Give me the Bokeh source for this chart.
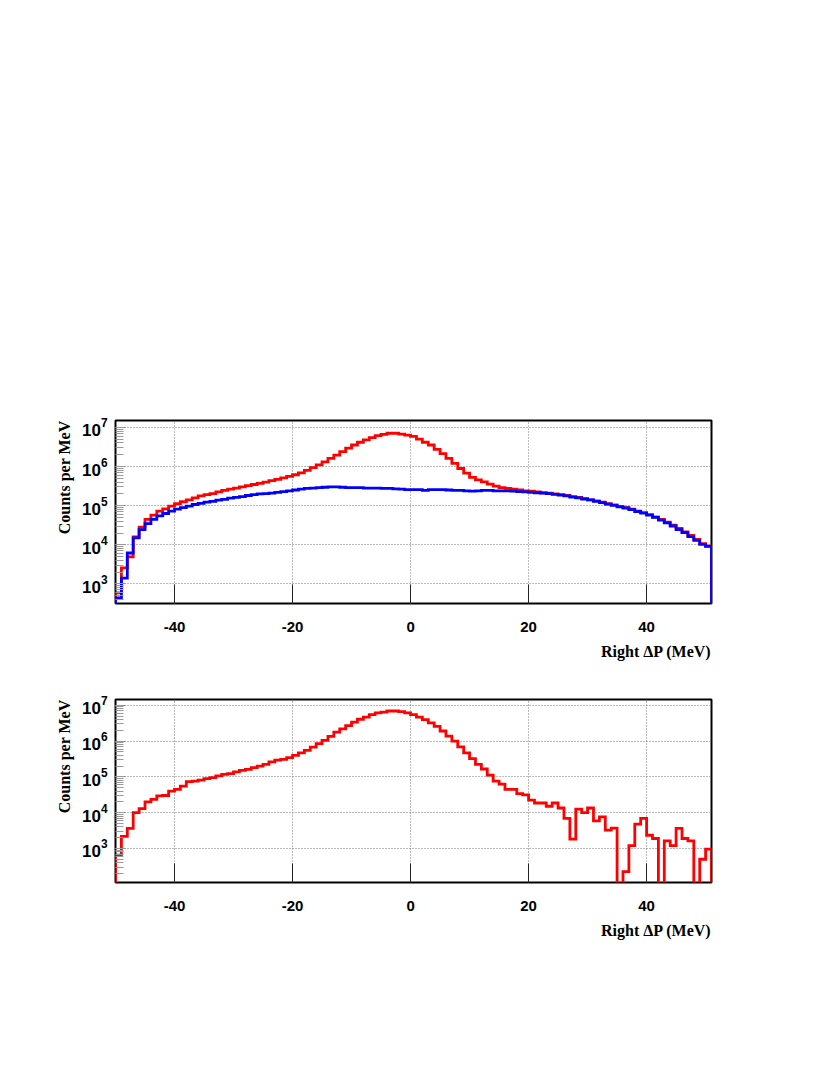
import numpy as np
from bokeh.plotting import figure
from bokeh.models import Range1d, FixedTicker, LogTicker, Title
from bokeh.layouts import column
from bokeh.embed import file_html
from bokeh.resources import INLINE

# ---------------- data ----------------
bin_lo = -50          # first bin lower edge (MeV)
bin_hi = 51           # last bin upper edge (MeV)
x_ticks = [-40, -20, 0, 20, 40]
x_title = "Right \u0394P (MeV)"
y_title = "Counts per MeV"

# top panel, red histogram (1 MeV bins from -50 to 51)
top_red = [
    589, 2570, 4900, 15800, 28200, 44700, 57500, 72400, 83200, 97700,
    1.12e5, 1.26e5, 1.41e5, 1.58e5, 1.78e5, 1.91e5, 2.04e5, 2.24e5, 2.45e5, 2.63e5,
    2.82e5, 3.02e5, 3.24e5, 3.47e5, 3.72e5, 3.98e5, 4.37e5, 4.68e5, 5.13e5, 5.62e5,
    6.17e5, 6.92e5, 7.94e5, 9.33e5, 1.10e6, 1.32e6, 1.62e6, 1.95e6, 2.40e6, 2.95e6,
    3.55e6, 4.17e6, 4.79e6, 5.50e6, 6.17e6, 6.61e6, 7.08e6, 7.08e6, 6.76e6, 6.31e6,
    5.89e6, 5.01e6, 4.17e6, 3.55e6, 2.75e6, 2.14e6, 1.62e6, 1.20e6, 8.91e5, 6.76e5,
    5.25e5, 4.57e5, 4.07e5, 3.55e5, 3.16e5, 2.88e5, 2.75e5, 2.63e5, 2.51e5, 2.40e5,
    2.34e5, 2.24e5, 2.14e5, 2.09e5, 2.00e5, 1.91e5, 1.82e5, 1.70e5, 1.62e5, 1.51e5,
    1.41e5, 1.32e5, 1.23e5, 1.12e5, 1.05e5, 9.55e4, 8.91e4, 8.13e4, 7.24e4, 6.61e4,
    5.89e4, 5.13e4, 4.47e4, 3.80e4, 3.16e4, 2.63e4, 2.14e4, 1.74e4, 1.38e4, 1.07e4,
    9.3e3,
]

# top panel, blue histogram
top_blue = [
    437, 1410, 6170, 15100, 24500, 34700, 44700, 55000, 63100, 72400,
    8.13e4, 8.91e4, 9.77e4, 1.07e5, 1.15e5, 1.23e5, 1.29e5, 1.38e5, 1.45e5, 1.55e5,
    1.62e5, 1.70e5, 1.82e5, 1.91e5, 2.00e5, 2.04e5, 2.09e5, 2.19e5, 2.29e5, 2.40e5,
    2.51e5, 2.63e5, 2.75e5, 2.82e5, 2.88e5, 2.95e5, 3.02e5, 3.02e5, 2.95e5, 2.88e5,
    2.88e5, 2.88e5, 2.82e5, 2.82e5, 2.82e5, 2.75e5, 2.75e5, 2.69e5, 2.63e5, 2.57e5,
    2.57e5, 2.57e5, 2.45e5, 2.57e5, 2.57e5, 2.57e5, 2.51e5, 2.45e5, 2.45e5, 2.40e5,
    2.34e5, 2.40e5, 2.45e5, 2.45e5, 2.40e5, 2.40e5, 2.40e5, 2.34e5, 2.29e5, 2.24e5,
    2.19e5, 2.14e5, 2.09e5, 2.04e5, 1.95e5, 1.86e5, 1.78e5, 1.66e5, 1.58e5, 1.48e5,
    1.41e5, 1.29e5, 1.20e5, 1.10e5, 1.02e5, 9.33e4, 8.71e4, 7.94e4, 7.08e4, 6.46e4,
    5.75e4, 5.01e4, 4.27e4, 3.63e4, 3.02e4, 2.45e4, 2.04e4, 1.62e4, 1.29e4, 1.02e4,
    9.1e3,
]

# bottom panel, red histogram (0 = empty bin)
bottom_red = [
    646, 2190, 3630, 1.00e4, 1.29e4, 2.00e4, 2.34e4, 2.95e4, 3.02e4, 3.98e4,
    4.47e4, 5.50e4, 7.41e4, 7.59e4, 8.13e4, 8.91e4, 9.55e4, 1.07e5, 1.17e5, 1.23e5,
    1.38e5, 1.51e5, 1.62e5, 1.82e5, 2.00e5, 2.24e5, 2.63e5, 2.95e5, 3.09e5, 3.47e5,
    3.98e5, 4.68e5, 5.50e5, 6.76e5, 8.51e5, 1.05e6, 1.35e6, 1.78e6, 2.19e6, 2.69e6,
    3.39e6, 4.07e6, 4.68e6, 5.50e6, 6.17e6, 6.46e6, 6.92e6, 6.92e6, 6.61e6, 6.17e6,
    5.50e6, 4.68e6, 3.98e6, 3.24e6, 2.57e6, 1.91e6, 1.38e6, 1.00e6, 6.92e5, 4.68e5,
    3.24e5, 2.24e5, 1.66e5, 1.12e5, 7.59e4, 6.31e4, 4.47e4, 4.47e4, 3.39e4, 3.16e4,
    2.24e4, 1.86e4, 1.86e4, 1.51e4, 1.86e4, 1.35e4, 6.9e3, 1.82e3, 1.26e4, 1.00e4,
    1.35e4, 5.9e3, 7.6e3, 3.24e3, 3.72e3, 0, 224, 1.2e3, 4.8e3, 6.9e3,
    2.34e3, 1.9e3, 0, 1.62e3, 1.2e3, 3.63e3, 1.9e3, 1.62e3, 0, 500,
    955,
]

top_yrange = (316, 1.5e7)
bottom_yrange = (112, 1.45e7)


def step_coords(values):
    """Histogram outline (ROOT style) from bin edges and bin contents."""
    vals = np.asarray(values, dtype=float)
    edges = np.linspace(bin_lo, bin_hi, len(vals) + 1)
    floor = 1e-2
    vals = np.where(vals > 0, vals, floor)
    xs = np.repeat(edges, 2)
    ys = np.concatenate([[floor], np.repeat(vals, 2), [floor]])
    return xs, ys


def make_panel(yr, series, top_border):
    p = figure(
        x_range=Range1d(bin_lo, bin_hi),
        y_range=Range1d(*yr),
        y_axis_type="log",
        frame_width=596,
        frame_height=183,
        min_border_left=115,
        min_border_right=20,
        min_border_top=top_border,
        min_border_bottom=66,
        output_backend="svg",
        toolbar_location=None,
        background_fill_color="white",
        border_fill_color="white",
    )
    p.outline_line_color = "black"
    p.outline_line_width = 2
    p.outline_line_alpha = 1.0

    # grids
    for g in (p.xgrid, p.ygrid):
        g.grid_line_color = "#777777"
        g.grid_line_dash = "1 2"
        g.grid_line_width = 1

    # x axis
    p.xaxis.ticker = FixedTicker(ticks=x_ticks)
    p.xaxis.major_label_overrides = {t: str(t) for t in x_ticks}
    p.xaxis.axis_line_color = None
    p.xaxis.major_tick_in = 19
    p.xaxis.major_tick_out = 0
    p.xaxis.major_tick_line_color = "#222222"
    p.xaxis.minor_tick_line_color = None
    p.xaxis.major_label_standoff = 18
    p.xaxis.major_label_text_font = "Liberation Sans"
    p.xaxis.major_label_text_font_style = "bold"
    p.xaxis.major_label_text_font_size = "15px"
    p.xaxis.major_label_text_color = "black"

    # y axis
    p.yaxis.ticker = LogTicker(num_minor_ticks=10)
    p.yaxis.axis_line_color = None
    p.yaxis.major_tick_in = 10
    p.yaxis.major_tick_out = 0
    p.yaxis.minor_tick_in = 8
    p.yaxis.minor_tick_out = 0
    p.yaxis.major_tick_line_color = "#888888"
    p.yaxis.minor_tick_line_color = "#999999"
    p.yaxis.major_label_standoff = 8
    p.yaxis.major_label_text_font = "Liberation Sans"
    p.yaxis.major_label_text_font_style = "bold"
    p.yaxis.major_label_text_font_size = "17px"
    p.yaxis.major_label_text_color = "black"

    for vals, color in series:
        xs, ys = step_coords(vals)
        p.line(xs, ys, line_color=color, line_width=2.8, line_join="miter")

    p.add_layout(Title(text=x_title, align="right", standoff=12,
                       text_font="Liberation Serif", text_font_style="bold",
                       text_font_size="16px", text_color="black"), "below")
    p.add_layout(Title(text=y_title, align="right", standoff=11,
                       text_font="Liberation Serif", text_font_style="bold",
                       text_font_size="16px", text_color="black"), "left")
    return p


p1 = make_panel(top_yrange, [(top_red, "#ff0000"), (top_blue, "#0000ff")], 420)
p2 = make_panel(bottom_yrange, [(bottom_red, "#ff0000")], 30)

layout = column(p1, p2, spacing=0)
open("out.html", "w").write(file_html(layout, INLINE))
